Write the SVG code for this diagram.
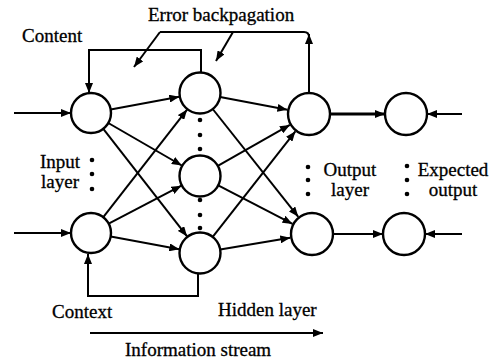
<svg xmlns="http://www.w3.org/2000/svg" width="495" height="362" viewBox="0 0 495 362">
<style>
.n{fill:#fff;stroke:#000;stroke-width:2.4}
.c{fill:none;stroke:#000;stroke-width:2}
.a{marker-end:url(#ah)}
text{font-family:'Liberation Serif','Times New Roman','DejaVu Serif',serif;font-size:19px;fill:#000;stroke:#000;stroke-width:0.3}
.d{fill:#000}
</style>
<defs>
<marker id="ah" markerUnits="userSpaceOnUse" markerWidth="11" markerHeight="8" refX="10" refY="4" orient="auto">
<path d="M0,0 L10,4 L0,8 z" fill="#000"/>
</marker>
</defs>
<rect width="495" height="362" fill="#fff"/>
<g id="connectors">
<line class="c a" x1="14" y1="113" x2="71" y2="113"/>
<line class="c a" x1="14" y1="233" x2="71" y2="233"/>
<line class="c a" x1="110.7" y1="109.4" x2="179.3" y2="96.8"/>
<line class="c a" x1="108.3" y1="123" x2="181.8" y2="165.5"/>
<line class="c a" x1="103.3" y1="128.8" x2="187.1" y2="236.4"/>
<line class="c a" x1="103.3" y1="217.2" x2="187.1" y2="109.6"/>
<line class="c a" x1="108.7" y1="223.7" x2="181.4" y2="185.7"/>
<line class="c a" x1="110.7" y1="236.6" x2="179.3" y2="249.2"/>
<line class="c a" x1="220.1" y1="96.9" x2="287.4" y2="109.8"/>
<line class="c a" x1="212.7" y1="109" x2="298.3" y2="216.8"/>
<line class="c a" x1="217.8" y1="165.9" x2="289.9" y2="124.9"/>
<line class="c a" x1="218.2" y1="185.4" x2="292.5" y2="223.9"/>
<line class="c a" x1="212.7" y1="236.9" x2="295.4" y2="131.3"/>
<line class="c a" x1="220.2" y1="249.6" x2="290.3" y2="237.7"/>
<line class="c a" x1="330" y1="114" x2="385" y2="114" style="stroke-width:3.2"/>
<line class="c a" x1="333" y1="234" x2="383" y2="234"/>
<line class="c a" x1="462" y1="114" x2="427" y2="114"/>
<line class="c a" x1="462" y1="234" x2="425" y2="234"/>
<path class="c a" d="M201,72 V50 H89 V93"/>
<path class="c a" d="M198,273 V296 H88 V254"/>
<path class="c" d="M160,32 H304 Q309,32 309,37"/>
<line class="c a" x1="309" y1="93" x2="309" y2="34"/>
<line class="c a" x1="160" y1="32" x2="134" y2="67"/>
<line class="c a" x1="233" y1="32" x2="216" y2="61"/>
<line class="c a" x1="90" y1="333" x2="323" y2="333"/>
</g>
<g id="input1"><circle class="n" cx="91" cy="113" r="20"/></g>
<g id="input2"><circle class="n" cx="91" cy="233" r="20"/></g>
<g id="hidden1"><circle class="n" cx="200" cy="93" r="20.5"/></g>
<g id="hidden2"><circle class="n" cx="200" cy="176" r="20.5"/></g>
<g id="hidden3"><circle class="n" cx="200" cy="253" r="20.5"/></g>
<g id="output1"><circle class="n" cx="309" cy="114" r="21"/></g>
<g id="output2"><circle class="n" cx="312" cy="234" r="21"/></g>
<g id="expected1"><circle class="n" cx="406" cy="114" r="21"/></g>
<g id="expected2"><circle class="n" cx="404" cy="234" r="21"/></g>
<g id="dots">
<circle class="d" cx="92" cy="160" r="2.3"/><circle class="d" cx="92" cy="174" r="2.3"/><circle class="d" cx="92" cy="189" r="2.3"/>
<circle class="d" cx="200" cy="120" r="2.3"/><circle class="d" cx="200" cy="135" r="2.3"/><circle class="d" cx="200" cy="149" r="2.3"/>
<circle class="d" cx="200" cy="200" r="2.3"/><circle class="d" cx="200" cy="215" r="2.3"/><circle class="d" cx="200" cy="228" r="2.3"/>
<circle class="d" cx="308" cy="167" r="2.3"/><circle class="d" cx="308" cy="180" r="2.3"/><circle class="d" cx="308" cy="194" r="2.3"/>
<circle class="d" cx="407" cy="166" r="2.3"/><circle class="d" cx="407" cy="180" r="2.3"/><circle class="d" cx="407" cy="194" r="2.3"/>
</g>
<g id="labels">
<text x="148" y="21">Error backpagation</text>
<text x="22" y="42">Content</text>
<text x="60" y="168" text-anchor="middle">Input</text>
<text x="60" y="188" text-anchor="middle">layer</text>
<text x="350" y="176" text-anchor="middle">Output</text>
<text x="350" y="196" text-anchor="middle">layer</text>
<text x="453" y="176" text-anchor="middle">Expected</text>
<text x="453" y="196" text-anchor="middle">output</text>
<text x="52" y="318">Context</text>
<text x="218" y="316">Hidden layer</text>
<text x="125" y="356">Information stream</text>
</g>
</svg>
